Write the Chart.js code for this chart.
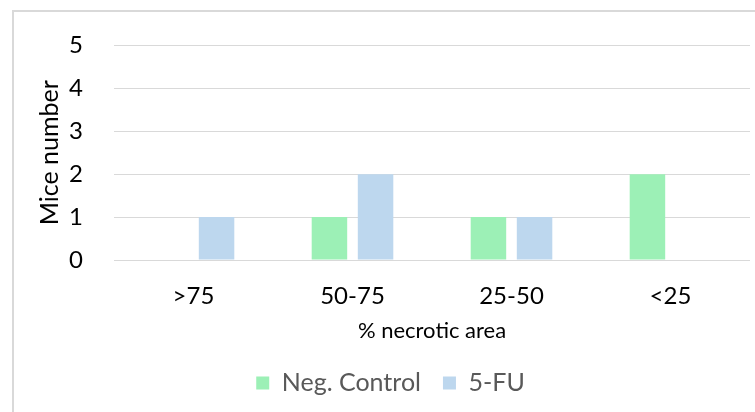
<!DOCTYPE html>
<html>
<head>
<meta charset="utf-8">
<script src="https://cdn.jsdelivr.net/npm/chart.js@4/dist/chart.umd.min.js"></script>
<style>
  html, body { margin: 0; padding: 0; background: #ffffff; }
  #wrap { position: relative; width: 755px; height: 412px; }
</style>
</head>
<body>
<div id="wrap"><canvas id="chart" width="755" height="412"></canvas></div>
<script>
// Necrotic area groups and mice counts per group
const categories = ['>75', '50-75', '25-50', '<25'];
const negControl = [0, 1, 1, 2];
const fiveFU = [1, 2, 1, 0];
const yTicks = [0, 1, 2, 3, 4, 5];

const FONT = 'Lato, "Open Sans", sans-serif';
const LEGEND_HEIGHT = 63.5;

// light frame along the top and left edge of the chart panel
const framePlugin = {
  id: 'frame',
  beforeDraw(chart) {
    const ctx = chart.ctx;
    ctx.save();
    ctx.fillStyle = '#d9d9d9';
    ctx.fillRect(12, 10, 743, 2);
    ctx.fillRect(12, 10, 2, 402);
    ctx.restore();
  }
};

const chart = new Chart(document.getElementById('chart'), {
  type: 'bar',
  data: {
    labels: categories,
    datasets: [
      {
        label: 'Neg. Control',
        data: negControl,
        backgroundColor: '#9cf0b6',
        borderWidth: 0
      },
      {
        label: '5-FU',
        data: fiveFU,
        backgroundColor: '#bdd7ee',
        borderWidth: 0
      }
    ]
  },
  options: {
    responsive: false,
    animation: false,
    devicePixelRatio: 1,
    categoryPercentage: 0.58,
    barPercentage: 0.77,
    layout: { padding: { left: 31, right: 5, top: 37, bottom: 0 } },
    plugins: {
      tooltip: { enabled: false },
      legend: {
        position: 'bottom',
        labels: {
          font: { family: FONT, size: 25 },
          color: '#595959',
          boxWidth: 13,
          boxHeight: 13,
          padding: 22
        }
      }
    },
    scales: {
      x: {
        grid: { display: false, drawTicks: false },
        border: { display: false },
        ticks: {
          font: { family: FONT, size: 24 },
          color: '#000000',
          padding: 22,
          maxRotation: 0
        },
        title: {
          display: true,
          text: '% necrotic area',
          font: { family: FONT, size: 22 },
          color: '#000000',
          padding: { top: 0, bottom: 4 }
        },
        afterFit(scale) { scale.height = 88.5; }
      },
      y: {
        min: 0,
        max: 5,
        afterBuildTicks(scale) { scale.ticks = yTicks.map(v => ({ value: v })); },
        grid: { color: '#d9d9d9', lineWidth: 1, drawTicks: false },
        border: { display: false },
        ticks: {
          font: { family: FONT, size: 24 },
          color: '#000000',
          padding: 31
        },
        title: {
          display: true,
          text: 'Mice number',
          font: { family: FONT, size: 25 },
          color: '#000000',
          padding: { top: 4, bottom: 0 }
        },
        afterFit(scale) { scale.width = 83; }
      }
    }
  },
  plugins: [framePlugin]
});

// keep the legend box at a fixed height below the axis title
const baseFit = chart.legend.fit;
chart.legend.fit = function () {
  baseFit.call(this);
  this.height = LEGEND_HEIGHT;
};
chart.update();
</script>
</body>
</html>
